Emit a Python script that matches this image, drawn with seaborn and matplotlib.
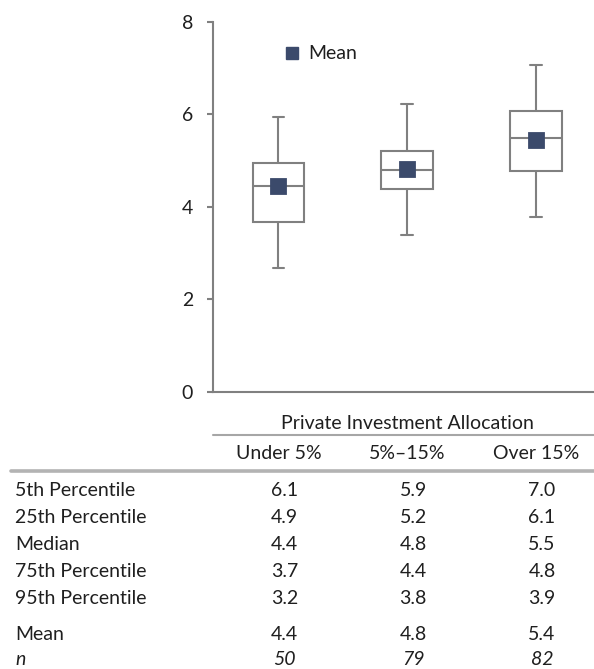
import numpy as np
import pandas as pd
import matplotlib
matplotlib.use("Agg")
import matplotlib.pyplot as plt
import matplotlib.transforms as mtransforms
from matplotlib.lines import Line2D
import seaborn as sns

# box plot values
categories = ["Under 5%", "5%–15%", "Over 15%"]
whisker_low = [2.67, 3.38, 3.77]
box_low = [3.68, 4.38, 4.77]
box_mid = [4.45, 4.79, 5.48]
box_high = [4.94, 5.21, 6.07]
whisker_high = [5.94, 6.21, 7.06]
mean_marks = [4.45, 4.81, 5.44]

# table below the chart
row_labels = ["5th Percentile", "25th Percentile", "Median",
              "75th Percentile", "95th Percentile"]
pct5 = [6.1, 5.9, 7.0]
pct25 = [4.9, 5.2, 6.1]
median_tbl = [4.4, 4.8, 5.5]
pct75 = [3.7, 4.4, 4.8]
pct95 = [3.2, 3.8, 3.9]
mean_tbl = [4.4, 4.8, 5.4]
n_obs = [50, 79, 82]

sns.set_theme(style="white")
plt.rcParams['font.family'] = ['Lato', 'DejaVu Sans']

GRAY = "#808080"
NAVY = "#3b4a6b"
TXT = "#1f1f1f"
FS = 14
W, H = 594, 669

# five points per group -> whis=(0, 100) gives exactly these five stats
df = pd.DataFrame({
    "group": np.repeat(categories, 5),
    "value": np.column_stack([whisker_low, box_low, box_mid,
                              box_high, whisker_high]).ravel(),
})

fig = plt.figure(figsize=(W / 100, H / 100), dpi=100)
ax = fig.add_axes([213.3 / W, 1 - 391.7 / H, 1 - 213.3 / W, 370 / H])

sns.boxplot(data=df, x="group", y="value", order=categories, whis=(0, 100),
            width=0.4, color="white", linecolor=GRAY, linewidth=1.5,
            fliersize=0, capwidths=0.09, ax=ax)
sns.pointplot(x=categories, y=mean_marks, order=categories, linestyle="none",
              marker="s", markersize=9.5, color=NAVY, errorbar=None, ax=ax,
              zorder=10)

ax.set_xlim(-0.505, 2.45)
ax.set_ylim(0, 8)
ax.set_yticks([0, 2, 4, 6, 8])
ax.set_xticks([])
ax.set_xlabel("")
ax.set_ylabel("")
ax.tick_params(axis="y", left=True, length=4.5, width=1.5, color=GRAY,
               pad=10, labelsize=FS, labelcolor=TXT)
sns.despine(ax=ax)
for s in ["left", "bottom"]:
    ax.spines[s].set_color(GRAY)
    ax.spines[s].set_linewidth(1.5)

ax.legend(handles=[Line2D([], [], marker="s", ls="", color=NAVY, markersize=8)],
          labels=["Mean"], loc="center left", bbox_to_anchor=(0.155, 0.913),
          frameon=False, handlelength=1.0, handletextpad=0.35, borderpad=0,
          fontsize=FS, labelcolor=TXT)

# table, columns aligned to the category positions
trans = mtransforms.blended_transform_factory(ax.transData, fig.transFigure)
vtrans = mtransforms.offset_copy(trans, fig=fig, x=6, y=0, units="dots")


def fy(px):
    return 1 - px / H


fig.text(1, fy(429), "Private Investment Allocation", transform=trans,
         ha="center", va="baseline", fontsize=FS, color=TXT)
fig.add_artist(Line2D([213.3 / W, 1], [fy(435)] * 2, color="#a6a6a6", lw=1.5,
                      transform=fig.transFigure))
for i, c in enumerate(categories):
    fig.text(i, fy(459), c, transform=trans, ha="center", va="baseline",
             fontsize=FS, color=TXT)
fig.add_artist(Line2D([11 / W, 1], [fy(470.5)] * 2, color="#b3b3b3", lw=2.6,
                      transform=fig.transFigure))

rows = [pct5, pct25, median_tbl, pct75, pct95]
row_y = [496, 523, 550, 577, 604]
for lab, vals, y in zip(row_labels, rows, row_y):
    fig.text(15 / W, fy(y), lab, ha="left", va="baseline", fontsize=FS, color=TXT)
    for i, v in enumerate(vals):
        fig.text(i, fy(y), f"{v:.1f}", transform=vtrans, ha="center",
                 va="baseline", fontsize=FS, color=TXT)

fig.text(15 / W, fy(640), "Mean", ha="left", va="baseline", fontsize=FS, color=TXT)
for i, v in enumerate(mean_tbl):
    fig.text(i, fy(640), f"{v:.1f}", transform=vtrans, ha="center",
             va="baseline", fontsize=FS, color=TXT)
fig.text(15 / W, fy(665), "n", ha="left", va="baseline", fontsize=FS,
         color=TXT, style="italic")
for i, v in enumerate(n_obs):
    fig.text(i, fy(665), f"{v}", transform=vtrans, ha="center", va="baseline",
             fontsize=FS, color=TXT, style="italic")

fig.savefig("out.png", dpi=100)
